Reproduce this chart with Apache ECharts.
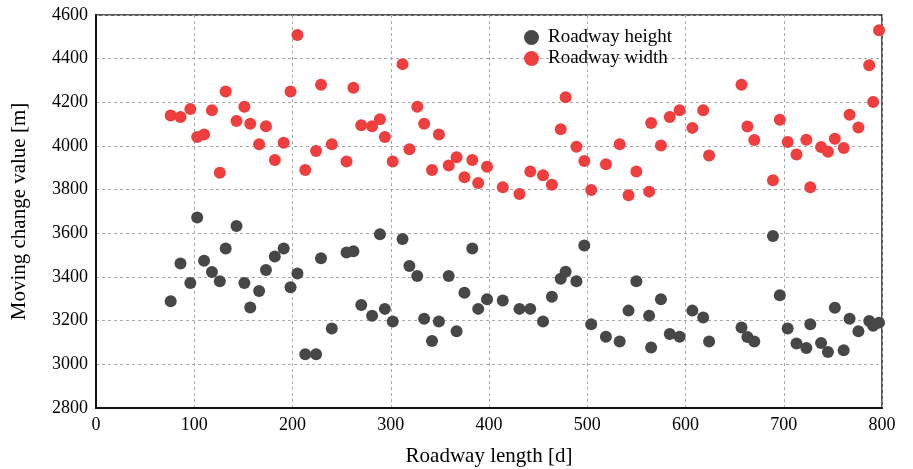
<!DOCTYPE html>
<html>
<head>
<meta charset="utf-8">
<script src="https://cdn.jsdelivr.net/npm/echarts@6/dist/echarts.min.js"></script>
<style>
  html, body { margin: 0; padding: 0; background: #fff; }
  #chart { width: 913px; height: 469px; }
</style>
</head>
<body>
<div id="chart"></div>
<script>
// roadway length [d] (shared by both series)
var lengths = [76, 86, 96, 103, 110, 118, 126, 132, 143, 151, 157, 166, 173, 182, 191, 198, 205, 213, 224, 229,
  240, 255, 262, 270, 281, 289, 294, 302, 312, 319, 327, 334, 342, 349, 359, 367, 375, 383, 389, 398,
  414, 431, 442, 455, 464, 473, 478, 489, 497, 504, 519, 533, 542, 550, 563, 565, 575, 584, 594, 607,
  618, 624, 657, 663, 670, 689, 696, 704, 713, 723, 727, 738, 745, 752, 761, 767, 776, 787, 791, 797];

var heightVals = [3289, 3462, 3373, 3672, 3474, 3423, 3380, 3530, 3634, 3373, 3260, 3336, 3432, 3494, 3530, 3353, 3416, 3046, 3046, 3486,
  3164, 3512, 3518, 3272, 3222, 3596, 3254, 3196, 3574, 3450, 3405, 3209, 3107, 3196, 3405, 3152, 3328, 3530, 3254, 3298,
  3292, 3254, 3254, 3196, 3310, 3392, 3424, 3380, 3544, 3184, 3126, 3105, 3246, 3380, 3222, 3077, 3298, 3139, 3126, 3246,
  3215, 3105, 3169, 3125, 3105, 3588, 3316, 3164, 3095, 3075, 3184, 3098, 3056, 3259, 3064, 3209, 3152, 3198, 3177, 3191];

var widthVals = [4140, 4133, 4170, 4041, 4053, 4164, 3878, 4250, 4115, 4180, 4102, 4008, 4090, 3936, 4015, 4250, 4508, 3890, 3977, 4281,
  4008, 3929, 4267, 4095, 4090, 4122, 4041, 3929, 4375, 3985, 4180, 4102, 3890, 4053, 3911, 3949, 3857, 3936, 3831, 3905,
  3811, 3780, 3883, 3866, 3822, 4077, 4223, 3997, 3931, 3798, 3916, 4008, 3774, 3883, 3791, 4105, 4002, 4133, 4164, 4083,
  4164, 3956, 4281, 4089, 4028, 3843, 4120, 4018, 3961, 4029, 3811, 3995, 3974, 4033, 3991, 4143, 4085, 4370, 4202, 4530];

var seriesNames = ['Roadway height', 'Roadway width'];

function pairs(ys) {
  return lengths.map(function (x, i) { return [x, ys[i]]; });
}

var font = 'Liberation Serif';
var gridLine = { show: true, lineStyle: { color: '#aaa', type: [3, 3], width: 1 } };
var plain = function (v) { return String(v); };

var chart = echarts.init(document.getElementById('chart'));
chart.setOption({
  animation: false,
  textStyle: { fontFamily: font },
  grid: {
    left: 96, right: 31, top: 15, bottom: 61,
    outerBoundsMode: 'none',
    show: true, borderColor: '#222', borderWidth: 1.5
  },
  legend: {
    data: seriesNames,
    orient: 'vertical',
    left: 519, top: 23,
    itemWidth: 15, itemHeight: 15, itemGap: 2,
    icon: 'circle',
    textStyle: { fontFamily: font, fontSize: 19, color: '#000', padding: [0, 0, 0, 4] }
  },
  xAxis: {
    type: 'value', min: 0, max: 800, interval: 100,
    name: 'Roadway length [d]', nameLocation: 'middle', nameGap: 38,
    nameTextStyle: { fontFamily: font, fontSize: 21, color: '#000' },
    axisLine: { show: true, onZero: false, lineStyle: { color: '#111', width: 2 } },
    axisTick: { show: false },
    axisLabel: { fontFamily: font, fontSize: 18, color: '#000', margin: 8, formatter: plain },
    splitLine: gridLine
  },
  yAxis: {
    type: 'value', min: 2800, max: 4600, interval: 200,
    name: 'Moving change value [m]', nameLocation: 'middle', nameGap: 66,
    nameTextStyle: { fontFamily: font, fontSize: 21, color: '#000' },
    axisLine: { show: true, lineStyle: { color: '#111', width: 2 } },
    axisTick: { show: false },
    axisLabel: { fontFamily: font, fontSize: 18, color: '#000', margin: 8, formatter: plain },
    splitLine: gridLine
  },
  series: [
    {
      name: seriesNames[0], type: 'scatter', symbolSize: 12,
      itemStyle: { color: '#474747', opacity: 1 },
      data: pairs(heightVals)
    },
    {
      name: seriesNames[1], type: 'scatter', symbolSize: 12,
      itemStyle: { color: '#ee3e3e', opacity: 1 },
      data: pairs(widthVals)
    }
  ]
});
</script>
</body>
</html>
